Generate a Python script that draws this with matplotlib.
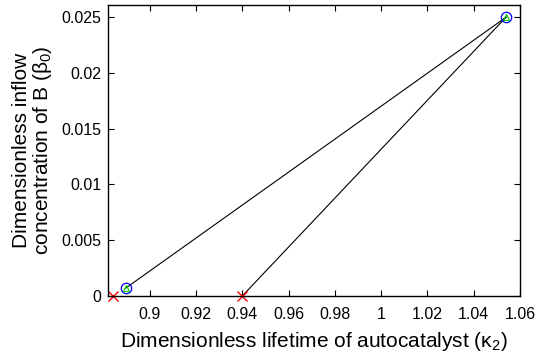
import matplotlib
matplotlib.use("Agg")
import matplotlib.pyplot as plt

plt.rcParams['font.family'] = ['Liberation Sans', 'DejaVu Sans']
plt.rcParams['mathtext.fontset'] = 'custom'
plt.rcParams['mathtext.rm'] = 'Liberation Sans'
plt.rcParams['mathtext.it'] = 'Liberation Sans:italic'

# points (kappa2, beta0)
circle_x = [0.8896, 1.054]
circle_y = [0.0007, 0.025]
cross_x = [0.8843, 0.94]
cross_y = [0.0, 0.0]
# line segments
seg1_x = [0.8896, 1.054]
seg1_y = [0.0007, 0.025]
seg2_x = [0.94, 1.054]
seg2_y = [0.0, 0.025]

xticks = [0.9, 0.92, 0.94, 0.96, 0.98, 1.0, 1.02, 1.04, 1.06]
xtick_labels = ['0.9', '0.92', '0.94', '0.96', '0.98', '1', '1.02', '1.04', '1.06']
yticks = [0, 0.005, 0.01, 0.015, 0.02, 0.025]
ytick_labels = ['0', '0.005', '0.01', '0.015', '0.02', '0.025']

fig = plt.figure(figsize=(5.36, 3.52), dpi=100)
ax = fig.add_axes([0.2015, 0.159, 0.7685, 0.827])

ax.plot(seg1_x, seg1_y, color='black', lw=0.8)
ax.plot(seg2_x, seg2_y, color='black', lw=0.8)
ax.plot(cross_x, cross_y, 'x', color='red', ms=7, mew=1, clip_on=False)
ax.plot(circle_x, circle_y, 'o', mfc='none', mec='blue', ms=7.5, mew=0.9)
ax.plot(circle_x, circle_y, '^', mfc='none', mec='#00cc00', ms=4, mew=0.8)

ax.set_xlim(0.882, 1.06)
ax.set_ylim(0, 0.0261)
ax.set_xticks(xticks)
ax.set_xticklabels(xtick_labels)
ax.set_yticks(yticks)
ax.set_yticklabels(ytick_labels)
ax.tick_params(direction='in', top=True, right=True, labelsize=11.5, length=4, width=0.8, pad=5)
ax.tick_params(axis='x', pad=8)
for s in ax.spines.values():
    s.set_linewidth(1.0)

ax.set_xlabel('Dimensionless lifetime of autocatalyst (κ$_2$)', fontsize=15, labelpad=6)
ax.set_ylabel('Dimensionless inflow\nconcentration of B (β$_0$)', fontsize=15, labelpad=5,
              linespacing=1.0)

fig.savefig('out.png', dpi=100)
